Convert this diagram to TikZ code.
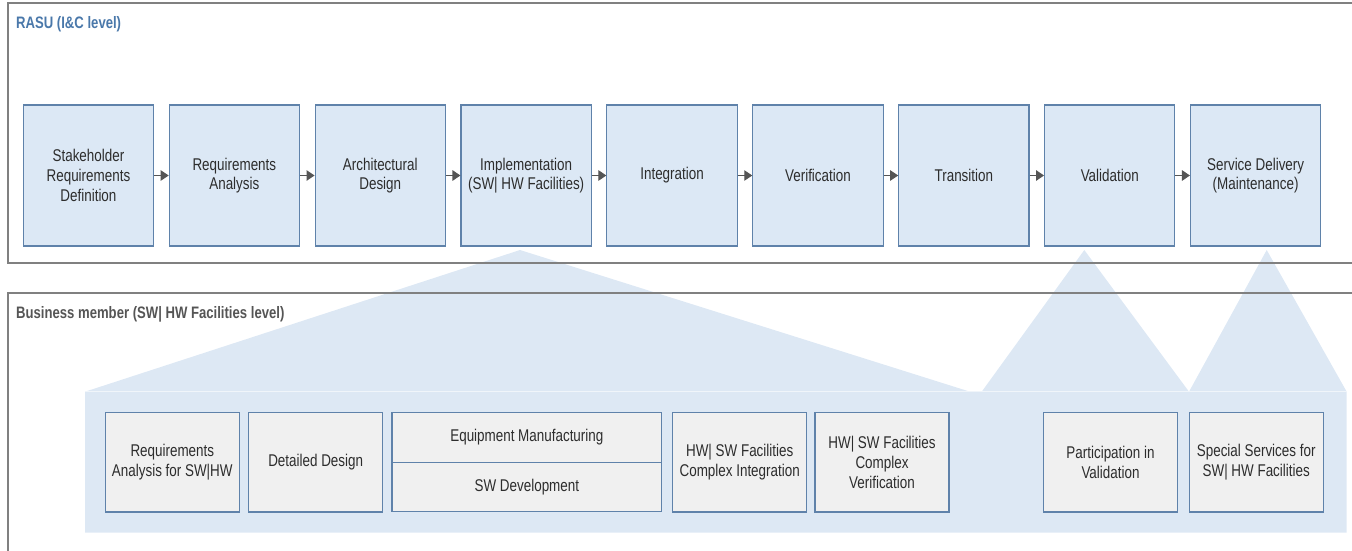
\documentclass[tikz,border=0pt]{standalone}
\usepackage{fontspec}
\setmainfont{Liberation Sans}[FakeStretch=0.79]
\usetikzlibrary{arrows.meta}
\definecolor{boxfill}{RGB}{220,232,245}
\definecolor{boxline}{RGB}{95,130,170}
\definecolor{zoomblue}{RGB}{221,232,244}
\definecolor{graybox}{RGB}{240,240,240}
\definecolor{frameline}{RGB}{128,128,128}
\definecolor{txt}{RGB}{45,45,45}
\definecolor{hdrblue}{RGB}{74,120,170}
\definecolor{hdrgray}{RGB}{85,85,85}
\definecolor{arrowc}{RGB}{85,85,85}
\newcommand\boxfont{\fontsize{17}{19.7}\selectfont}
\newcommand\hdrfont{\fontsize{16.6}{19}\selectfont\bfseries}
\begin{document}
\begin{tikzpicture}[x=1pt,y=-1pt,
 topbox/.style={draw=boxline, fill=boxfill, line width=1.1pt, minimum width=130.3pt, minimum height=141pt, inner sep=0pt, align=center, text=txt, font=\boxfont},
 botbox/.style={draw=boxline, fill=graybox, line width=1.1pt, minimum width=134pt, minimum height=99.3pt, inner sep=0pt, align=center, text=txt, font=\boxfont},
 halfbox/.style={botbox, minimum width=269.7pt, minimum height=49.65pt},
 flow/.style={draw=arrowc, line width=1.1pt, -{Triangle[length=8pt,width=10.5pt]}},
 frame/.style={draw=frameline, line width=1.4pt},
 hdr/.style={anchor=base west, inner sep=0pt, font=\hdrfont}
]
\useasboundingbox (0,0) rectangle (1352,551);

% shaded zoom-out shape
\fill[zoomblue] (85,391.7) -- (520,250) -- (970,391.7) -- (981.7,391.7) -- (1084.3,250) -- (1189,391.7) -- (1266.7,250) -- (1346.7,391.7) -- (1346.7,532.7) -- (85,532.7) -- cycle;
\draw[white!55!zoomblue, line width=0.8pt] (85,391.7) -- (1346.7,391.7);

% panel frames
\draw[frame] (1352,3) -- (8,3) -- (8,263) -- (1352,263);
\draw[frame] (1352,293) -- (8,293) -- (8,551);

\node[hdr, text=hdrblue] (h1) at (16,28.5) {RASU (I\&C level)};
\node[hdr, text=hdrgray] (h2) at (16,318) {Business member (SW| HW Facilities level)};

% top row
\node[topbox] (t1) at (88.45,175.5) {Stakeholder\\Requirements\\Definition};
\node[topbox] (t2) at (234.35,175.5) {Requirements\\Analysis};
\node[topbox] (t3) at (380.25,175.5) {Architectural\\Design};
\node[topbox] (t4) at (526.15,175.5) {Implementation\\(SW| HW Facilities)};
\node[topbox] (t5) at (672.05,175.5) {Integration};
\node[topbox] (t6) at (817.95,175.5) {Verification};
\node[topbox] (t7) at (963.85,175.5) {Transition};
\node[topbox] (t8) at (1109.75,175.5) {Validation};
\node[topbox] (t9) at (1255.65,175.5) {Service Delivery\\(Maintenance)};

\foreach \a/\b in {t1/t2,t2/t3,t3/t4,t4/t5,t5/t6,t6/t7,t7/t8,t8/t9}
  \draw[flow] (\a.east) -- (\b.west);

% bottom row
\node[botbox] (b1) at (172.3,462.3) {Requirements\\Analysis for SW|HW};
\node[botbox] (b2) at (315.7,462.3) {Detailed Design};
\node[halfbox] (b3a) at (526.85,437.5) {Equipment Manufacturing};
\node[halfbox] (b3b) at (526.85,487.1) {SW Development};
\node[botbox] (b4) at (739.7,462.3) {HW| SW Facilities\\Complex Integration};
\node[botbox] (b5) at (882,462.3) {HW| SW Facilities\\Complex\\Verification};
\node[botbox] (b6) at (1110.5,462.3) {Participation in\\Validation};
\node[botbox] (b7) at (1256.2,462.3) {Special Services for\\SW| HW Facilities};
\end{tikzpicture}
\end{document}
